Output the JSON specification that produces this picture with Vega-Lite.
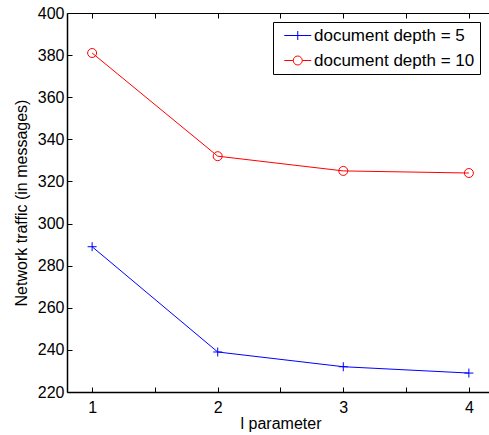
{
  "$schema": "https://vega.github.io/schema/vega-lite/v6.json",
  "width": 427,
  "height": 379,
  "autosize": "none",
  "padding": {"left": 67, "top": 13, "right": 0, "bottom": 43},
  "background": "white",
  "config": {
    "font": "Liberation Sans",
    "view": {"stroke": null},
    "axis": {
      "domainColor": "black",
      "domainWidth": 1.5,
      "tickColor": "black",
      "tickWidth": 1,
      "tickSize": -5,
      "labelColor": "black",
      "labelFontSize": 16,
      "titleColor": "black",
      "titleFontSize": 16,
      "titleFontWeight": "normal",
      "grid": false
    }
  },
  "data": {
    "values": [
      {"l": 1, "traffic": 289, "series": "document depth = 5"},
      {"l": 2, "traffic": 239, "series": "document depth = 5"},
      {"l": 3, "traffic": 232, "series": "document depth = 5"},
      {"l": 4, "traffic": 229, "series": "document depth = 5"},
      {"l": 1, "traffic": 381, "series": "document depth = 10"},
      {"l": 2, "traffic": 332, "series": "document depth = 10"},
      {"l": 3, "traffic": 325, "series": "document depth = 10"},
      {"l": 4, "traffic": 324, "series": "document depth = 10"}
    ]
  },
  "resolve": {"scale": {"x": "shared"}, "axis": {"x": "independent"}},
  "layer": [
    {
      "mark": {"type": "line", "strokeWidth": 1},
      "encoding": {
        "x": {
          "field": "l", "type": "quantitative",
          "scale": {"domain": [0.8, 4.2], "nice": false, "zero": false},
          "axis": {
            "orient": "bottom",
            "title": "l parameter",
            "values": [1, 1.5, 2, 2.5, 3, 3.5, 4],
            "labelExpr": "datum.value % 1 == 0 ? format(datum.value, 'd') : ''",
            "labelPadding": 12,
            "titlePadding": 0
          }
        },
        "y": {
          "field": "traffic", "type": "quantitative",
          "scale": {"domain": [220, 400], "nice": false, "zero": false},
          "axis": {
            "title": "Network traffic (in messages)",
            "values": [220, 240, 260, 280, 300, 320, 340, 360, 380, 400],
            "labelPadding": 8,
            "titlePadding": 8
          }
        },
        "color": {
          "field": "series", "type": "nominal",
          "scale": {"domain": ["document depth = 5", "document depth = 10"], "range": ["#0000ff", "#ff0000"]},
          "legend": {
            "orient": "none",
            "legendX": 206,
            "legendY": 9,
            "title": null,
            "strokeColor": "black",
            "fillColor": "white",
            "padding": 5,
            "labelFontSize": 17,
            "labelLimit": 300,
            "labelColor": "black",
            "symbolSize": 81,
            "symbolStrokeWidth": 1,
            "labelOffset": 19,
            "rowPadding": 7,
            "encode": {
              "symbols": {
                "update": {
                  "shape": {"signal": "datum.value === 'document depth = 5' ? 'M-0.5,0H5.5M2.5,-1V1' : 'M-0.5,0H1.5M3.5,0H5.5M1.5,0A1,1 0 1,1 3.5,0A1,1 0 1,1 1.5,0'"},
                  "stroke": {"scale": "color", "field": "value"},
                  "fill": {"value": "transparent"}
                }
              }
            }
          }
        }
      }
    },
    {
      "transform": [{"filter": "datum.series === 'document depth = 5'"}],
      "mark": {"type": "point", "filled": false, "shape": "M-1,0H1M0,-1V1", "size": 81, "strokeWidth": 1, "opacity": 1},
      "encoding": {
        "x": {"field": "l", "type": "quantitative", "axis": null},
        "y": {"field": "traffic", "type": "quantitative"},
        "color": {"field": "series", "type": "nominal"}
      }
    },
    {
      "transform": [{"filter": "datum.series === 'document depth = 10'"}],
      "mark": {"type": "point", "filled": false, "shape": "M-1,0A1,1 0 1,1 1,0A1,1 0 1,1 -1,0", "size": 81, "strokeWidth": 1, "opacity": 1},
      "encoding": {
        "x": {"field": "l", "type": "quantitative", "axis": null},
        "y": {"field": "traffic", "type": "quantitative"},
        "color": {"field": "series", "type": "nominal"}
      }
    },
    {
      "mark": {"type": "point", "opacity": 0},
      "encoding": {
        "x": {
          "field": "l", "type": "quantitative",
          "axis": {
            "orient": "top",
            "title": null,
            "values": [1, 1.5, 2, 2.5, 3, 3.5, 4],
            "labels": false,
            "domainWidth": 1
          }
        },
        "y": {"field": "traffic", "type": "quantitative"}
      }
    }
  ]
}
